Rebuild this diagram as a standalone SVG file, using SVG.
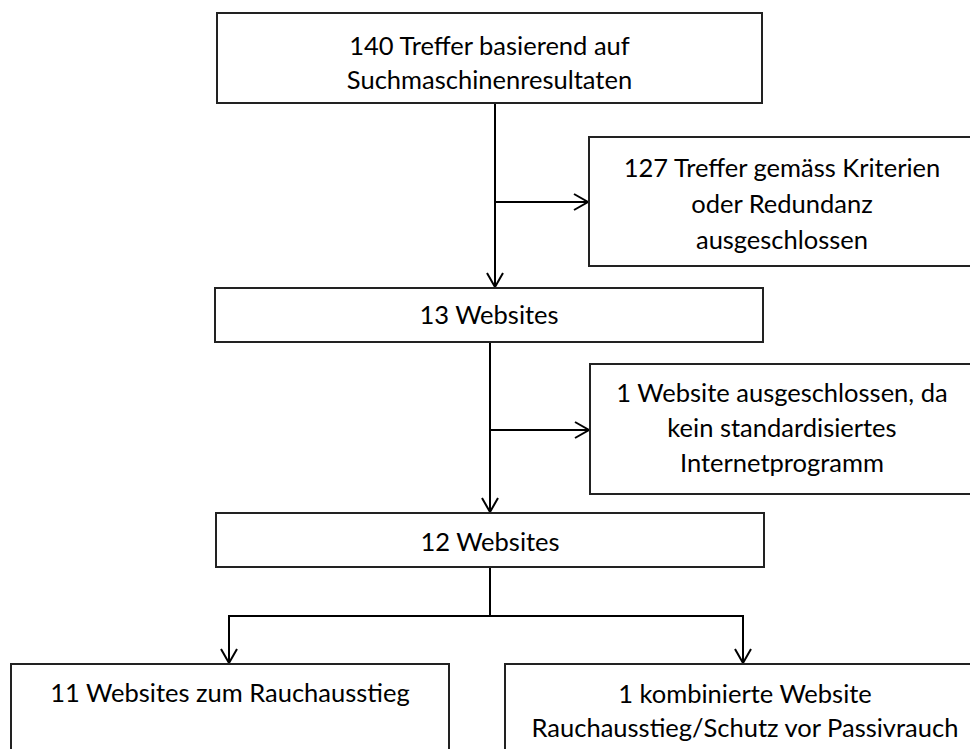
<svg xmlns="http://www.w3.org/2000/svg" width="970" height="749" viewBox="0 0 970 749">
<defs>
<style>
.box{fill:#fff;stroke:#222;stroke-width:2}
.t{font-family:Lato,"Open Sans","Liberation Sans",sans-serif;font-size:25.5px;fill:#000;text-anchor:middle}
.ln{fill:none;stroke:#000;stroke-width:2}
</style>
<marker id="ah" markerUnits="userSpaceOnUse" markerWidth="18" markerHeight="20" refX="15" refY="9" orient="auto" viewBox="0 0 18 20">
<path d="M1,1 L15,9 L1,17" fill="none" stroke="#000" stroke-width="2"/>
</marker>
</defs>
<rect width="970" height="749" fill="#fff"/>
<g id="connectors">
<path class="ln" d="M495,103 V287" marker-end="url(#ah)"/>
<path class="ln" d="M495,202 H588" marker-end="url(#ah)"/>
<path class="ln" d="M490,342 V512" marker-end="url(#ah)"/>
<path class="ln" d="M490,430 H589" marker-end="url(#ah)"/>
<path class="ln" d="M490,567 V616"/>
<path class="ln" d="M229,616 H743"/>
<path class="ln" d="M229,615 V663" marker-end="url(#ah)"/>
<path class="ln" d="M743,615 V663" marker-end="url(#ah)"/>
</g>
<g id="n1">
<rect class="box" x="217" y="13" width="545" height="90"/>
<text class="t" x="489.5" y="55">140 Treffer basierend auf</text>
<text class="t" x="489.5" y="89">Suchmaschinenresultaten</text>
</g>
<g id="n2">
<rect class="box" x="589" y="137" width="390" height="129"/>
<text class="t" x="782" y="177">127 Treffer gemäss Kriterien</text>
<text class="t" x="782" y="213">oder Redundanz</text>
<text class="t" x="782" y="249">ausgeschlossen</text>
</g>
<g id="n3">
<rect class="box" x="215" y="288" width="548" height="54"/>
<text class="t" x="489" y="324">13 Websites</text>
</g>
<g id="n4">
<rect class="box" x="590" y="364" width="390" height="130"/>
<text class="t" x="782" y="402">1 Website ausgeschlossen, da</text>
<text class="t" x="782" y="437">kein standardisiertes</text>
<text class="t" x="782" y="472">Internetprogramm</text>
</g>
<g id="n5">
<rect class="box" x="216" y="513" width="548" height="54"/>
<text class="t" x="490" y="551">12 Websites</text>
</g>
<g id="n6">
<rect class="box" x="11" y="664" width="438" height="100"/>
<text class="t" x="230" y="702">11 Websites zum Rauchausstieg</text>
</g>
<g id="n7">
<rect class="box" x="505" y="664" width="480" height="100"/>
<text class="t" x="745" y="703">1 kombinierte Website</text>
<text class="t" x="745" y="737">Rauchausstieg/Schutz vor Passivrauch</text>
</g>
</svg>
